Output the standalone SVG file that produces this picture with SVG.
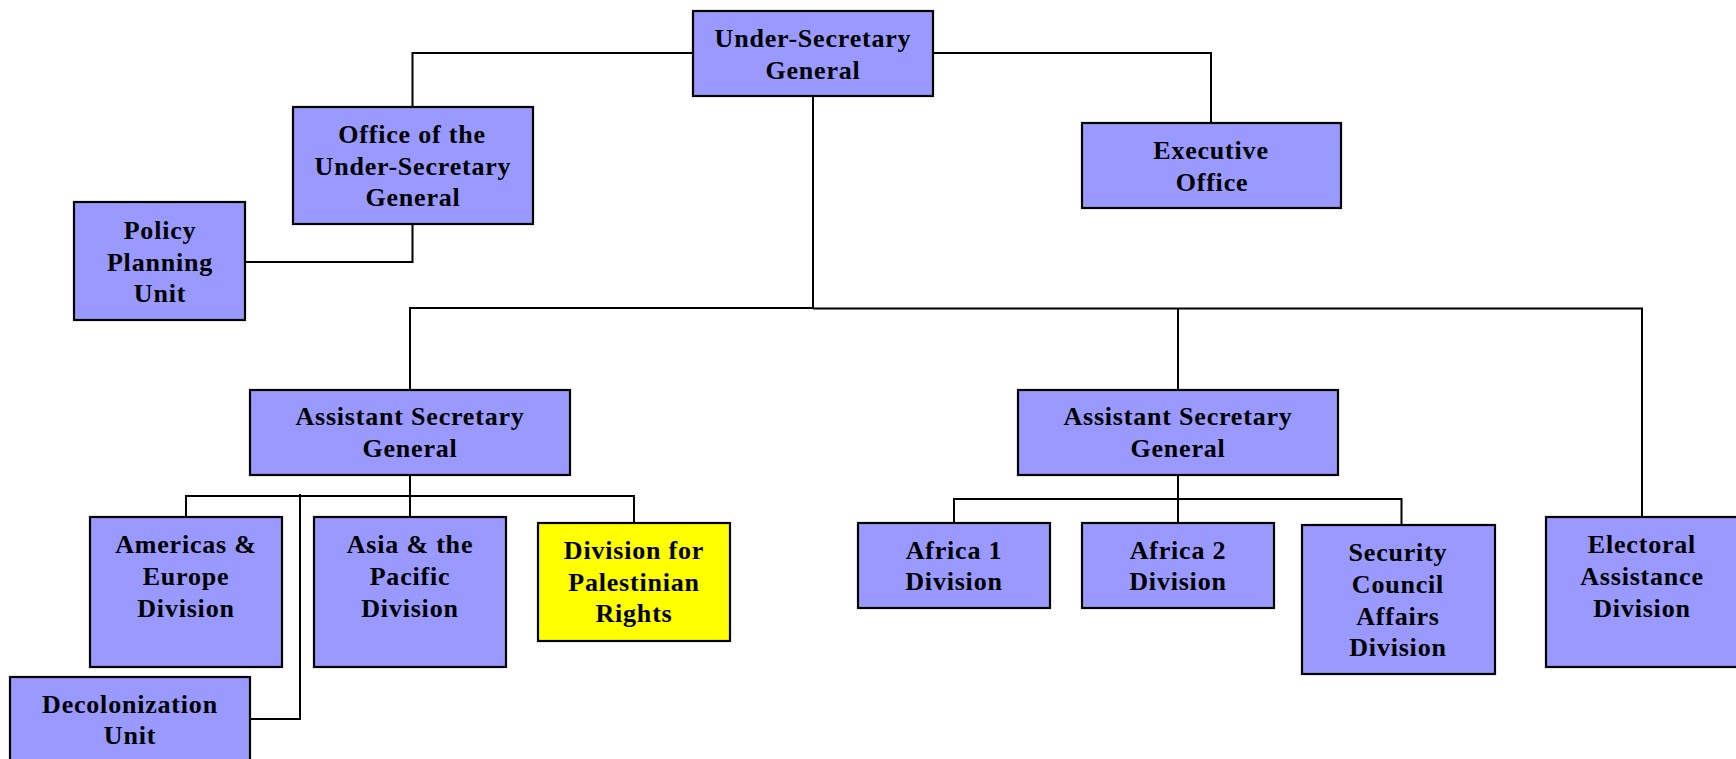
<svg xmlns="http://www.w3.org/2000/svg" width="1736" height="759" viewBox="0 0 1736 759">
<style>
.box{fill:#9999FF;stroke:#000;stroke-width:2.2}
.yel{fill:#FFFF00;stroke:#000;stroke-width:2.2}
.lbl{font-family:"Liberation Serif","Times New Roman",serif;font-weight:bold;font-size:26px;letter-spacing:0.8px;text-anchor:middle;fill:#000}
.con{fill:none;stroke:#000;stroke-width:2}
</style>
<rect width="1736" height="759" fill="#fff"/>
<g id="connectors">
<polyline class="con" points="693,53 412.5,53 412.5,107"/>
<polyline class="con" points="933,53 1211,53 1211,123"/>
<polyline class="con" points="412.5,224 412.5,262 245,262"/>
<polyline class="con" points="813,96 813,308 410,308 410,390"/>
<polyline class="con" points="813,308.5 1642,308.5 1642,517"/>
<line class="con" x1="1178" y1="308.5" x2="1178" y2="390"/>
<polyline class="con" points="186,517 186,496 634,496 634,523"/>
<line class="con" x1="410" y1="475" x2="410" y2="517"/>
<polyline class="con" points="300,494 300,719 250,719"/>
<polyline class="con" points="954,523 954,499 1401.5,499 1401.5,525"/>
<line class="con" x1="1178" y1="475" x2="1178" y2="523"/>
</g>
<g id="usg"><rect class="box" x="693" y="11" width="240" height="85"/>
<text class="lbl" x="813" y="47">Under-Secretary</text><text class="lbl" x="813" y="78.5">General</text></g>
<g id="office-usg"><rect class="box" x="293" y="107" width="240" height="117"/>
<text class="lbl" x="412" y="143">Office of the</text><text class="lbl" x="413" y="175">Under-Secretary</text><text class="lbl" x="413" y="206">General</text></g>
<g id="exec-office"><rect class="box" x="1082" y="123" width="259" height="85"/>
<text class="lbl" x="1211" y="159">Executive</text><text class="lbl" x="1212" y="190.5">Office</text></g>
<g id="policy"><rect class="box" x="74" y="202" width="171" height="118"/>
<text class="lbl" x="160" y="239">Policy</text><text class="lbl" x="160" y="271">Planning</text><text class="lbl" x="160" y="302">Unit</text></g>
<g id="asg-left"><rect class="box" x="250" y="390" width="320" height="85"/>
<text class="lbl" x="410" y="424.5">Assistant Secretary</text><text class="lbl" x="410" y="456.5">General</text></g>
<g id="asg-right"><rect class="box" x="1018" y="390" width="320" height="85"/>
<text class="lbl" x="1178" y="424.5">Assistant Secretary</text><text class="lbl" x="1178" y="456.5">General</text></g>
<g id="americas"><rect class="box" x="90" y="517" width="192" height="150"/>
<text class="lbl" x="186" y="552.5">Americas &amp;</text><text class="lbl" x="186" y="584.5">Europe</text><text class="lbl" x="186" y="616.5">Division</text></g>
<g id="asia"><rect class="box" x="314" y="517" width="192" height="150"/>
<text class="lbl" x="410" y="552.5">Asia &amp; the</text><text class="lbl" x="410" y="584.5">Pacific</text><text class="lbl" x="410" y="616.5">Division</text></g>
<g id="palestinian"><rect class="yel" x="538" y="523" width="192" height="118"/>
<text class="lbl" x="634" y="559">Division for</text><text class="lbl" x="634" y="590.5">Palestinian</text><text class="lbl" x="634" y="622">Rights</text></g>
<g id="decolonization"><rect class="box" x="10" y="677" width="240" height="100"/>
<text class="lbl" x="130" y="712.5">Decolonization</text><text class="lbl" x="130" y="744">Unit</text></g>
<g id="africa1"><rect class="box" x="858" y="523" width="192" height="85"/>
<text class="lbl" x="954" y="558.5">Africa 1</text><text class="lbl" x="954" y="590">Division</text></g>
<g id="africa2"><rect class="box" x="1082" y="523" width="192" height="85"/>
<text class="lbl" x="1178" y="558.5">Africa 2</text><text class="lbl" x="1178" y="590">Division</text></g>
<g id="security"><rect class="box" x="1302" y="525" width="193" height="149"/>
<text class="lbl" x="1398" y="561">Security</text><text class="lbl" x="1398" y="592.5">Council</text><text class="lbl" x="1398" y="625">Affairs</text><text class="lbl" x="1398" y="656">Division</text></g>
<g id="electoral"><rect class="box" x="1546" y="517" width="192" height="150"/>
<text class="lbl" x="1642" y="552.5">Electoral</text><text class="lbl" x="1642" y="584.5">Assistance</text><text class="lbl" x="1642" y="616.5">Division</text></g>
</svg>
